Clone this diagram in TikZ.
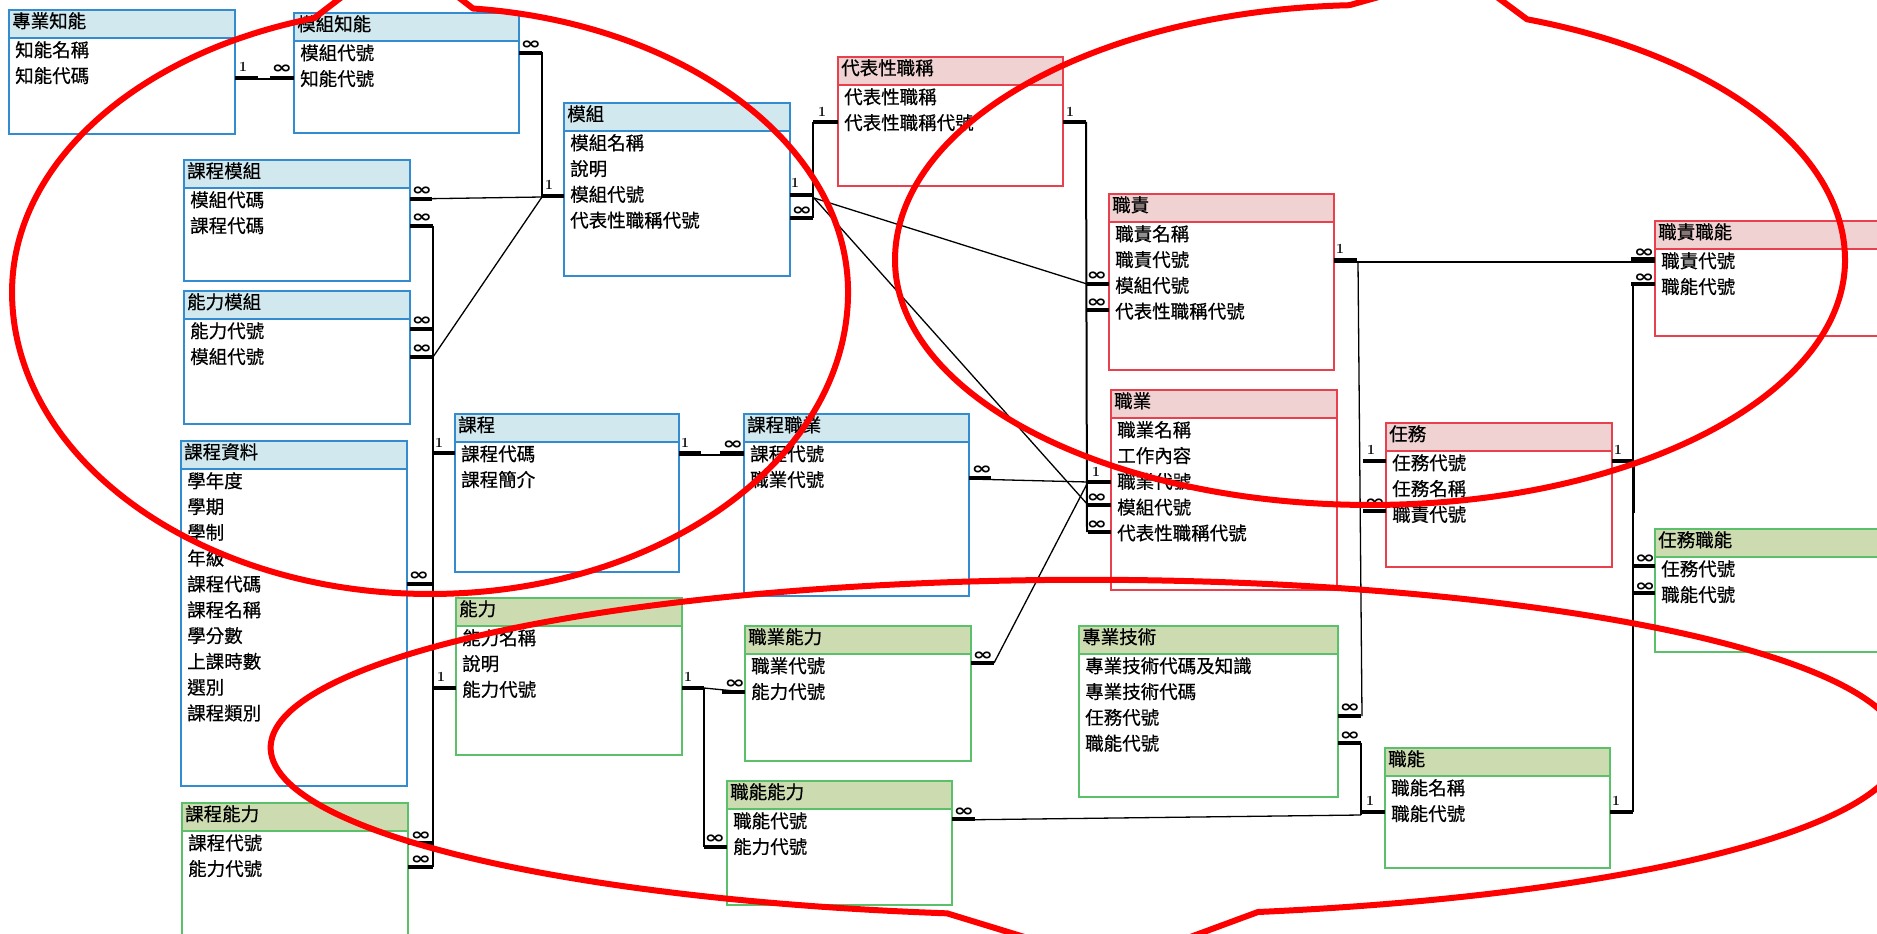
\documentclass[tikz,border=0pt]{standalone}
\usepackage{fontspec}
\newfontfamily\cjk{Noto Sans CJK TC}[BoldFont={Noto Sans CJK TC}, BoldFeatures={FakeBold=0.5}]
\newfontfamily\djv{DejaVu Sans}
\usetikzlibrary{fit,calc}
\definecolor{bluB}{RGB}{52,140,208}
\definecolor{bluH}{RGB}{208,232,238}
\definecolor{redB}{RGB}{232,64,76}
\definecolor{redH}{RGB}{240,210,211}
\definecolor{grnB}{RGB}{90,192,106}
\definecolor{grnH}{RGB}{205,220,176}
\tikzset{
  tb/.style={draw=#1, line width=1.5pt, inner sep=0pt, outer sep=0pt, fill=white},
  fld/.style={anchor=west, inner sep=0pt, font=\cjk\bfseries\fontsize{18.5}{18.5}\selectfont, text height=0.86em, text depth=0.1em},
  thinc/.style={line width=1.3pt, black},
  thk/.style={line width=4pt, black},
  onel/.style={inner sep=0pt, font=\bfseries\fontsize{14}{14}\selectfont},
  manyl/.style={inner sep=0pt, font=\djv\bfseries\fontsize{17}{17}\selectfont},
  ring/.style={draw=red, line width=6pt, line join=round},
}
\newcommand\mytable[9]{%
  \node[tb=#6, fit={(#2,#3) (#4,#5)}] (#1) {};
  \fill[#7] (#1.north west) rectangle ($(#1.north east)+(0,28)$);
  \draw[#6, line width=1.5pt] (#1.north west) rectangle ($(#1.north east)+(0,28)$);
  \node[fld] at ($(#1.north west)+(3,14)$) {#8};
  \foreach \fldtxt [count=\fldi] in {#9} {\node[fld] at ($(#1.north west)+(6,{28+15+(\fldi-1)*25.8})$) {\fldtxt};}
}
\newcommand\yc[1]{\coordinate (y#1) at (0,#1);}
\newcommand\barR[3]{\coordinate (tmpy) at (0,#2); \draw[thk] (#1.east |- tmpy) -- ++(#3,0);}
\newcommand\barL[3]{\coordinate (tmpy) at (0,#2); \draw[thk] (#1.west |- tmpy) -- ++(-#3,0);}
\newcommand\onelab[2]{\node[onel] at (#1,#2) {1};}
\newcommand\manylab[2]{\node[manyl] at (#1,#2) {\scalebox{1.45}[1]{∞}};}
\begin{document}
\begin{tikzpicture}[x=1pt,y=-1pt]
\useasboundingbox (0,0) rectangle (1877,934);
\clip (0,0) rectangle (1877,934);
\fill[white] (0,0) rectangle (1877,934);

% tables
\mytable{zyzn}{9}{10}{235}{134}{bluB}{bluH}{專業知能}{知能名稱,知能代碼}
\mytable{mkzn}{294}{13}{519}{133}{bluB}{bluH}{模組知能}{模組代號,知能代號}
\mytable{kcmk}{184}{160}{410}{281}{bluB}{bluH}{課程模組}{模組代碼,課程代碼}
\mytable{nlmk}{184}{291}{410}{424}{bluB}{bluH}{能力模組}{能力代號,模組代號}
\mytable{kczl}{181}{441}{407}{786}{bluB}{bluH}{課程資料}{學年度,學期,學制,年級,課程代碼,課程名稱,學分數,上課時數,選別,課程類別}
\mytable{kcnl}{182}{803}{408}{950}{grnB}{grnH}{課程能力}{課程代號,能力代號}
\mytable{kc}{455}{414}{679}{572}{bluB}{bluH}{課程}{課程代碼,課程簡介}
\mytable{nl}{456}{598}{682}{755}{grnB}{grnH}{能力}{能力名稱,說明,能力代號}
\mytable{mk}{564}{103}{790}{276}{bluB}{bluH}{模組}{模組名稱,說明,模組代號,代表性職稱代號}
\mytable{kczy}{744}{414}{969}{596}{bluB}{bluH}{課程職業}{課程代號,職業代號}
\mytable{zynl}{745}{626}{971}{761}{grnB}{grnH}{職業能力}{職業代號,能力代號}
\mytable{znnl}{727}{781}{952}{905}{grnB}{grnH}{職能能力}{職能代號,能力代號}
\mytable{dbzc}{838}{57}{1063}{186}{redB}{redH}{代表性職稱}{代表性職稱,代表性職稱代號}
\mytable{zz}{1109}{194}{1334}{370}{redB}{redH}{職責}{職責名稱,職責代號,模組代號,代表性職稱代號}
\mytable{zy}{1111}{390}{1337}{590}{redB}{redH}{職業}{職業名稱,工作內容,職業代號,模組代號,代表性職稱代號}
\mytable{zyjs}{1079}{626}{1338}{797}{grnB}{grnH}{專業技術}{專業技術代碼及知識,專業技術代碼,任務代號,職能代號}
\mytable{rw}{1386}{423}{1612}{567}{redB}{redH}{任務}{任務代號,任務名稱,職責代號}
\mytable{zn}{1385}{748}{1610}{868}{grnB}{grnH}{職能}{職能名稱,職能代號}
\mytable{zzzn}{1655}{221}{1895}{336}{redB}{redH}{職責職能}{職責代號,職能代號}
\mytable{rwzn}{1655}{529}{1895}{652}{grnB}{grnH}{任務職能}{任務代號,職能代號}

% junction coordinates
\coordinate (j1) at (542,197);
\coordinate (v1t) at (433,226);
\coordinate (v1m) at (433,453);
\coordinate (v1b) at (433,867);
\coordinate (v1c) at (433,357);
\coordinate (j2t) at (813,122);
\coordinate (j2m) at (814,198);
\coordinate (j2b) at (813,218);
\coordinate (j3) at (1088,482);
\coordinate (j4t) at (1086,122);
\coordinate (j4a) at (1087,284);
\coordinate (j4b) at (1087,532);
\coordinate (j4c) at (1088,505);
\coordinate (j5t) at (1358,262);
\coordinate (j5b) at (1362,716);
\coordinate (j6t) at (1361,743);
\coordinate (j6b) at (1361,815);
\coordinate (j7t) at (1633,284);
\coordinate (j7b) at (1633,812);
\coordinate (j7c) at (1634,461);
\coordinate (j7d) at (1634,513);
\coordinate (j8) at (704,688);
\coordinate (j8b) at (704,847);
\coordinate (j9) at (994,663);
\yc{79} \yc{53} \yc{196} \yc{199} \yc{455} \yc{479} \yc{692} \yc{262} \yc{820}

% 專業知能 - 模組知能
\barR{zyzn}{78}{23}
\barL{mkzn}{78}{24}
\draw[thinc] (zyzn.east |- y79) -- (mkzn.west |- y79);
\onelab{243}{67}
\manylab{282}{69}
% 模組知能 - 模組
\barR{mkzn}{53}{23}
\barL{mk}{196}{22}
\draw[thinc] (mkzn.east |- y53) -| (j1);
\draw[thinc] (j1) -- (mk.west |- y196);
\manylab{531}{45}
\onelab{549}{185}
% 課程模組 - 模組
\barR{kcmk}{199}{22}
\draw[thinc] (kcmk.east |- y199) -- (j1);
\manylab{422}{191}
% 能力模組 - 模組
\barR{nlmk}{357}{23}
\draw[thinc] (v1c) -- (j1);
\manylab{422}{349}
% 課程 / 能力 bus
\barR{kcmk}{226}{23}
\barR{nlmk}{329}{23}
\barL{kc}{453}{22}
\barR{kczl}{584}{26}
\barL{nl}{688}{23}
\barR{kcnl}{843}{25}
\barR{kcnl}{867}{25}
\draw[thinc] (v1t) -- (v1m);
\draw[line width=2pt] (v1m) -- (v1b);
\manylab{422}{218}
\manylab{422}{321}
\onelab{439}{443}
\manylab{419}{576}
\onelab{441}{677}
\manylab{421}{836}
\manylab{421}{860}
% 課程 - 課程職業
\barR{kc}{453}{22}
\barL{kczy}{453}{24}
\draw[thinc] (kc.east |- y455) -- (kczy.west |- y455);
\onelab{685}{443}
\manylab{733}{445}
% 課程職業 - 職業
\barR{kczy}{478}{22}
\draw[thinc] (kczy.east |- y479) -- (j3);
\manylab{982}{470}
% 模組 - 代表性職稱 / 職責 / 職業
\barR{mk}{195}{23}
\barR{mk}{218}{23}
\barL{dbzc}{122}{25}
\draw[thinc] (j2t) -- (j2b);
\draw[thinc] (j2m) -- (j4a);
\draw[thinc] (j2m) -- (j4c);
\onelab{795}{183}
\manylab{802}{211}
\onelab{822}{112}
% 代表性職稱 - 職責 / 職業
\barR{dbzc}{122}{23}
\draw[line width=2pt] (j4t) -- (j4b);
\barL{zz}{284}{23}
\barL{zz}{310}{23}
\barL{zy}{482}{23}
\barL{zy}{505}{23}
\barL{zy}{532}{23}
\onelab{1070}{112}
\manylab{1097}{276}
\manylab{1097}{303}
\onelab{1096}{472}
\manylab{1097}{498}
\manylab{1097}{525}
% 職業能力 - 職業
\barR{zynl}{663}{23}
\draw[thinc] (j9) -- (j3);
\manylab{983}{656}
% 能力 - 職業能力 / 職能能力
\barR{nl}{688}{22}
\barL{zynl}{692}{23}
\barL{znnl}{847}{23}
\draw[thinc] (j8) -- (j8b);
\draw[thinc] (j8) -- (zynl.west |- y692);
\onelab{688}{677}
\manylab{735}{684}
\manylab{715}{839}
% 職責 - 職責職能
\barR{zz}{260}{23}
\barL{zzzn}{259}{24}
\draw[thinc] (zz.east |- y262) -- (zzzn.west |- y262);
\onelab{1340}{249}
\manylab{1644}{253}
% 職責 - 任務, 任務 - 專業技術
\draw[thinc] (j5t) -- (j5b);
\barL{rw}{461}{23}
\barL{rw}{511}{23}
\barR{zyjs}{716}{23}
\onelab{1371}{450}
\manylab{1375}{503}
\manylab{1350}{708}
% 職能 - 專業技術 / 職能能力
\barR{zyjs}{743}{23}
\barL{zn}{812}{24}
\barR{znnl}{819}{23}
\draw[thinc] (j6t) -- (j6b);
\draw[thinc] (znnl.east |- y820) -- (j6b);
\manylab{1350}{736}
\onelab{1370}{801}
\manylab{964}{812}
% 職能 / 任務 - 職責職能 / 任務職能
\barR{zn}{812}{23}
\barR{rw}{461}{22}
\barL{zzzn}{284}{24}
\barL{rwzn}{566}{21}
\barL{rwzn}{593}{21}
\draw[thinc] (j7t) -- (j7b);
\draw[line width=2.5pt] (j7c) -- (j7d);
\onelab{1618}{450}
\onelab{1616}{801}
\manylab{1644}{278}
\manylab{1645}{559}
\manylab{1645}{587}

% red rings
\draw[ring] (473,8.5) arc[start angle=275.9, end angle=360, x radius=418, y radius=285]
  arc[start angle=0, end angle=180, x radius=418, y radius=302]
  arc[start angle=180, end angle=253.9, x radius=418, y radius=285]
  -- (360,-17) -- (440,-17) -- cycle;
\draw[ring] (1527,19.3) arc[start angle=289.3, end angle=360, x radius=475, y radius=255]
  arc[start angle=0, end angle=180, x radius=475, y radius=245]
  arc[start angle=180, end angle=267.5, x radius=475, y radius=255]
  -- (1429,-17) -- (1478,-17) -- cycle;
\draw[ring] (1258,912) arc[start angle=77.8, end angle=-260.2, x radius=815, y radius=168]
  -- (1067,950) -- (1155,950) -- cycle;
\end{tikzpicture}
\end{document}
